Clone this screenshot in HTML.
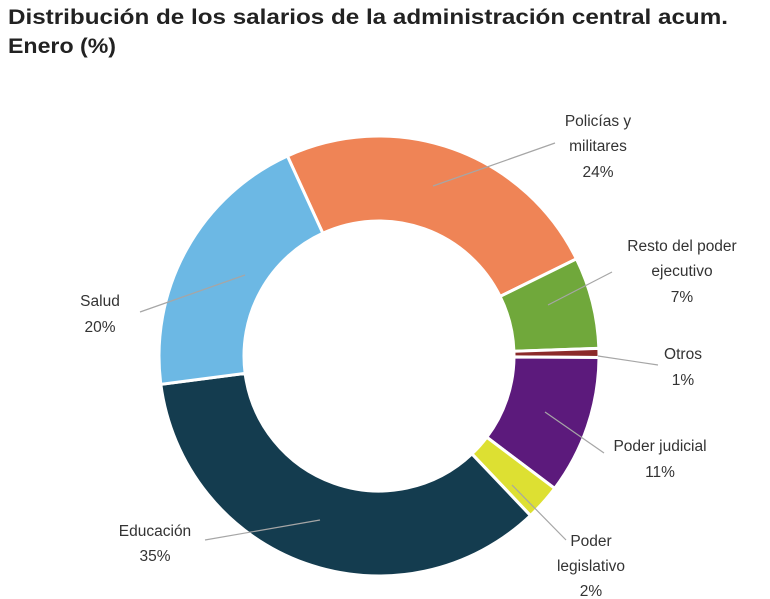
<!DOCTYPE html>
<html><head><meta charset="utf-8"><style>
html,body{margin:0;padding:0;background:#fff}
svg{display:block}
text{font-family:"Liberation Sans",sans-serif;fill:#333}
.l{font-size:15.5px;text-anchor:middle}
</style></head><body>
<svg id="s" width="770" height="599" viewBox="0 0 770 599">
<text x="8" y="24" font-size="21" font-weight="bold" textLength="720" lengthAdjust="spacingAndGlyphs" style="fill:#222">Distribución de los salarios de la administración central acum.</text>
<text x="8" y="53" font-size="21" font-weight="bold" textLength="108" lengthAdjust="spacingAndGlyphs" style="fill:#222">Enero (%)</text>
<g id="pie"></g>
<g stroke="#a6a6a6" stroke-width="1.2" fill="none">
<line x1="433" y1="186" x2="555" y2="143"/>
<line x1="548" y1="305" x2="612" y2="272"/>
<line x1="598" y1="356" x2="658" y2="365"/>
<line x1="545" y1="412" x2="604" y2="453"/>
<line x1="512" y1="485" x2="566" y2="540"/>
<line x1="320" y1="520" x2="205" y2="540"/>
<line x1="245" y1="275" x2="140" y2="312"/>
</g>
<text class="l" x="598" y="126">Policías y</text>
<text class="l" x="598" y="151">militares</text>
<text class="l" x="598" y="177">24%</text>
<text class="l" x="682" y="251">Resto del poder</text>
<text class="l" x="682" y="276">ejecutivo</text>
<text class="l" x="682" y="302">7%</text>
<text class="l" x="683" y="359">Otros</text>
<text class="l" x="683" y="385">1%</text>
<text class="l" x="660" y="451">Poder judicial</text>
<text class="l" x="660" y="477">11%</text>
<text class="l" x="591" y="546">Poder</text>
<text class="l" x="591" y="571">legislativo</text>
<text class="l" x="591" y="596">2%</text>
<text class="l" x="155" y="536">Educación</text>
<text class="l" x="155" y="561">35%</text>
<text class="l" x="100" y="306">Salud</text>
<text class="l" x="100" y="332">20%</text>
</svg>
<script>
var cx=379,cy=356,R=220,r=135;
var sl=[[335.4,423.8,"#ef8456"],[63.8,88.0,"#70a83b"],[88.0,90.4,"#8b2a2a"],[90.4,127,"#5c1a7c"],[127,136.5,"#dde032"],[136.5,262.6,"#143c4f"],[262.6,335.4,"#6cb8e4"]];
function p(a,rad){a=a*Math.PI/180;return [cx+rad*Math.sin(a),cy-rad*Math.cos(a)];}
var h="";
sl.forEach(function(s){var a=s[0],b=s[1],lg=(b-a)>180?1:0;
var p1=p(a,R),p2=p(b,R),p3=p(b,r),p4=p(a,r);
h+='<path d="M'+p1+' A'+R+' '+R+' 0 '+lg+' 1 '+p2+' L'+p3+' A'+r+' '+r+' 0 '+lg+' 0 '+p4+' Z" fill="'+s[2]+'" stroke="#fff" stroke-width="3"/>';});
document.getElementById("pie").innerHTML=h;
</script>
</body></html>
